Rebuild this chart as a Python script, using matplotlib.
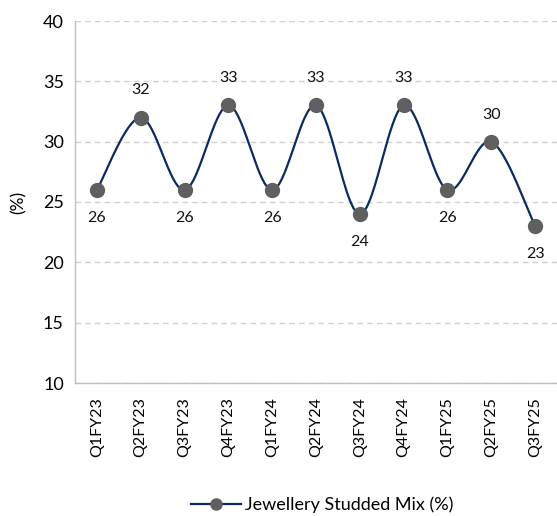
import numpy as np
import matplotlib
matplotlib.use("Agg")
import matplotlib.pyplot as plt
from matplotlib.lines import Line2D

quarters = ["Q1FY23", "Q2FY23", "Q3FY23", "Q4FY23", "Q1FY24", "Q2FY24",
            "Q3FY24", "Q4FY24", "Q1FY25", "Q2FY25", "Q3FY25"]
studded_mix = [26, 32, 26, 33, 26, 33, 24, 33, 26, 30, 23]
label_above = [False, True, False, True, False, True, False, True, False, True, False]
series_name = "Jewellery Studded Mix (%)"

plt.rcParams["font.family"] = ["Lato", "DejaVu Sans"]

line_color = "#0B2A63"
marker_color = "#5F5F5F"


def smooth_curve(xs, ys, steps=40):
    """Catmull-Rom style cubic Bezier through every point."""
    xs = np.asarray(xs, float)
    ys = np.asarray(ys, float)
    n = len(xs)
    out_x, out_y = [], []
    for i in range(n - 1):
        p0 = np.array([xs[max(i - 1, 0)], ys[max(i - 1, 0)]])
        p1 = np.array([xs[i], ys[i]])
        p2 = np.array([xs[i + 1], ys[i + 1]])
        p3 = np.array([xs[min(i + 2, n - 1)], ys[min(i + 2, n - 1)]])
        c1 = p1 + (p2 - p0) / 6.0
        c2 = p2 - (p3 - p1) / 6.0
        t = np.linspace(0, 1, steps)[:, None]
        pts = ((1 - t) ** 3) * p1 + 3 * ((1 - t) ** 2) * t * c1 \
            + 3 * (1 - t) * t ** 2 * c2 + t ** 3 * p2
        out_x.extend(pts[:, 0])
        out_y.extend(pts[:, 1])
    return np.array(out_x), np.array(out_y)


fig = plt.figure(figsize=(5.57, 5.16), dpi=100)
ax = fig.add_axes([75 / 557, 133 / 516, 482 / 557, 362 / 516])

x = np.arange(len(quarters))
sx, sy = smooth_curve(x, studded_mix)
ax.plot(sx, sy, color=line_color, lw=1.6, zorder=3)
ax.plot(x, studded_mix, ls="none", marker="o", ms=10,
        color=marker_color, zorder=4)

for xi, v, up in zip(x, studded_mix, label_above):
    ax.annotate(f"{v}", (xi, v), xytext=(0, 19.5 if up else -20),
                textcoords="offset points", ha="center",
                va="center", fontsize=11.5, color="#111111")

ax.set_ylim(10, 40)
ax.set_yticks(range(10, 41, 5))
ax.set_xlim(-0.5, len(quarters) - 0.5)
ax.set_xticks(x)
ax.set_xticklabels(quarters, rotation=90, fontsize=11.5)
ax.tick_params(axis="y", labelsize=13, length=0, pad=8)
ax.tick_params(axis="x", length=0, pad=10)
ax.yaxis.grid(True, color="#D0D0D0", ls=(0, (4, 3)), lw=1.0)
ax.set_axisbelow(True)
for side in ("top", "right"):
    ax.spines[side].set_visible(False)
for side in ("left", "bottom"):
    ax.spines[side].set_color("#BFBFBF")
    ax.spines[side].set_linewidth(1.0)

ax.set_ylabel("(%)", fontsize=12.5, labelpad=12)

handle = Line2D([], [], color=line_color, lw=1.6, marker="o", ms=8,
                markerfacecolor=marker_color, markeredgecolor=marker_color)
fig.legend([handle], [series_name], loc="center", frameon=False,
           bbox_to_anchor=(322 / 557, 1 - 505 / 516), fontsize=13,
           handlelength=2.8, handletextpad=0.2)

fig.savefig("out.png", dpi=100)
